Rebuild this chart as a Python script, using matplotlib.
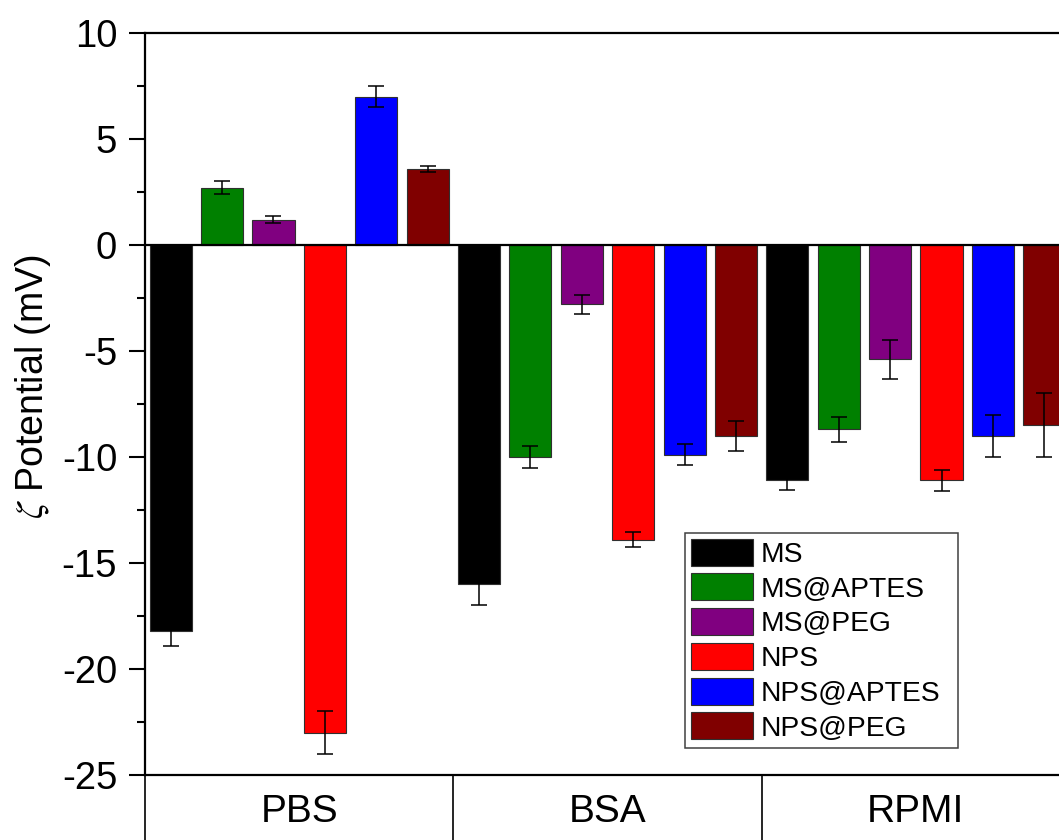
import matplotlib
matplotlib.use("Agg")
import matplotlib.pyplot as plt
from matplotlib.patches import Rectangle
import numpy as np

plt.rcParams['font.family'] = ['Liberation Sans', 'DejaVu Sans']
plt.rcParams['mathtext.fontset'] = 'stix'

media = ['PBS', 'BSA', 'RPMI']
samples = ['MS', 'MS@APTES', 'MS@PEG', 'NPS', 'NPS@APTES', 'NPS@PEG']
colors = ['#000000', '#008000', '#800080', '#FF0000', '#0000FF', '#800000']

# zeta potential (mV) per sample, one value per medium: PBS, BSA, RPMI
ms = [-18.2, -16.0, -11.1]
ms_aptes = [2.7, -10.0, -8.7]
ms_peg = [1.2, -2.8, -5.4]
nps = [-23.0, -13.9, -11.1]
nps_aptes = [7.0, -9.9, -9.0]
nps_peg = [3.6, -9.0, -8.5]

# standard deviations
ms_err = [0.7, 1.0, 0.45]
ms_aptes_err = [0.3, 0.5, 0.6]
ms_peg_err = [0.17, 0.45, 0.9]
nps_err = [1.0, 0.35, 0.5]
nps_aptes_err = [0.5, 0.5, 1.0]
nps_peg_err = [0.15, 0.7, 1.5]

values = [ms, ms_aptes, ms_peg, nps, nps_aptes, nps_peg]
errors = [ms_err, ms_aptes_err, ms_peg_err, nps_err, nps_aptes_err, nps_peg_err]

W, H = 1059, 840
fig = plt.figure(figsize=(W / 100, H / 100), dpi=100)
ax = fig.add_axes([145 / W, (H - 775) / H, (1070 - 145) / W, (775 - 33) / H])

n = len(samples)
bar_w = 0.82
for i, (name, col, vals, errs) in enumerate(zip(samples, colors, values, errors)):
    xs = np.arange(len(media)) * n + i + 0.5
    ax.bar(xs, vals, width=bar_w, color=col, edgecolor='#303030', linewidth=0.8,
           label=name, zorder=2)
    ax.errorbar(xs, vals, yerr=errs, fmt='none', ecolor='black', elinewidth=1.1,
                capsize=5.5, capthick=1.1, zorder=3)

ax.axhline(0, color='black', linewidth=1.6, zorder=4)

ax.set_xlim(0, len(media) * n)
ax.set_ylim(-25, 10)

# y axis
ax.set_yticks(np.arange(-25, 10.1, 5))
ax.set_yticklabels([f'{v:g}' for v in np.arange(-25, 10.1, 5)])
ax.set_yticks(np.arange(-25, 10.1, 2.5), minor=True)
ax.tick_params(axis='y', which='major', direction='out', length=11.5, width=1.5,
               pad=8.5, labelsize=27.5)
ax.tick_params(axis='y', which='minor', direction='out', length=6, width=1.5)

# category axis: separators as long major ticks, names on minor ticks
ax.set_xticks(np.arange(0, len(media) * n + 1, n))
ax.set_xticklabels([])
ax.set_xticks(np.arange(len(media)) * n + n / 2, minor=True)
ax.set_xticklabels(media, minor=True)
ax.tick_params(axis='x', which='major', direction='out', length=60, width=1.2)
ax.tick_params(axis='x', which='minor', length=0, pad=14, labelsize=28)

for side in ['left', 'top', 'bottom']:
    ax.spines[side].set_linewidth(1.6)
ax.spines['right'].set_visible(False)

ax.set_ylabel(r'$\zeta$ Potential (mV)', fontsize=27)
ax.yaxis.set_label_coords(-0.0995, 0.523)

# legend entries with a separate rectangular frame behind them
leg = ax.legend(loc='upper left', bbox_to_anchor=(685 / W, (H - 533) / H),
                bbox_transform=fig.transFigure, fontsize=20.3, frameon=False,
                borderaxespad=0, borderpad=0.2, handlelength=2.2,
                handleheight=1.1, handletextpad=0.28, labelspacing=0.2)
leg.set_zorder(6)
frame = Rectangle((685 / W, (H - 748) / H), (958 - 685) / W, (748 - 533) / H,
                  transform=fig.transFigure, facecolor='white', edgecolor='#404040',
                  linewidth=1.1, zorder=5, clip_on=False)
ax.add_patch(frame)

fig.savefig('out.png', dpi=100)
